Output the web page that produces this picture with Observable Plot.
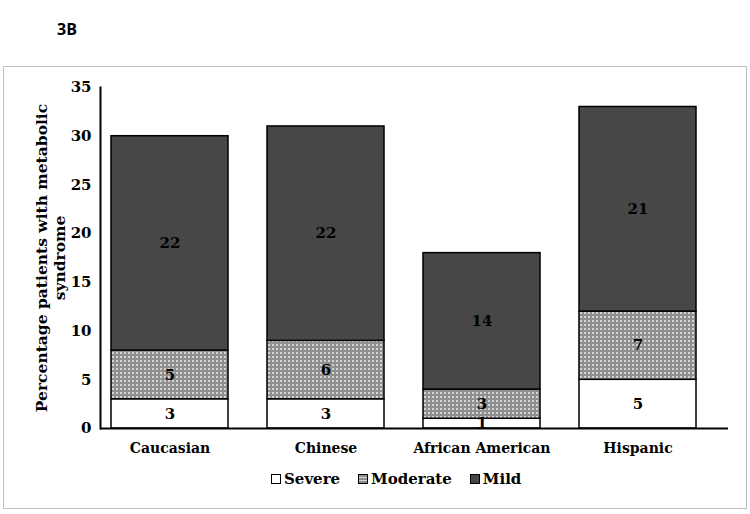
<!DOCTYPE html>
<html>
<head>
<meta charset="utf-8">
<script src="https://cdn.jsdelivr.net/npm/d3@7"></script>
<script src="https://cdn.jsdelivr.net/npm/@observablehq/plot@0.6"></script>
<style>
  html, body { margin: 0; padding: 0; background: #fff; }
  #wrap { position: relative; width: 750px; height: 514px; overflow: hidden; font-family: "DejaVu Serif", serif; }
  #tag { position: absolute; left: 57px; top: 18px; font: bold 16px "Open Sans", "DejaVu Sans", sans-serif; color: #000; }
  #box { position: absolute; left: 3px; top: 66px; width: 744px; height: 443px; border: 1px solid #bfbfbf; box-sizing: border-box; }
  #chart { position: absolute; left: 0; top: 0; }
  #legend { position: absolute; left: 271px; top: 470px; display: flex; align-items: center; font: bold 15px "DejaVu Serif", serif; color: #000; }
  #legend .item { display: flex; align-items: center; margin-right: 18px; }
  #legend .sw { width: 10px; height: 10px; border: 1px solid #000; margin-right: 3px; box-sizing: border-box; }
</style>
</head>
<body>
<div id="wrap">
  <div id="tag">3B</div>
  <div id="box"></div>
  <div id="chart"></div>
  <div id="legend"></div>
</div>
<script>
const groups = ["Caucasian", "Chinese", "African American", "Hispanic"];
const severe = [3, 3, 1, 5];
const moderate = [5, 6, 3, 7];
const mild = [22, 22, 14, 21];
const levels = ["Severe", "Moderate", "Mild"];
const yTicks = [0, 5, 10, 15, 20, 25, 30, 35];
const yLabel = "Percentage patients with metabolic\nsyndrome";

const fills = ["#ffffff", "url(#dots)", "#474747"];
const series = [severe, moderate, mild];
const rows = [];
groups.forEach((g, i) => {
  levels.forEach((lv, j) => rows.push({group: g, level: lv, value: series[j][i]}));
});

const chart = Plot.plot({
  width: 750,
  height: 465,
  marginTop: 87,
  marginBottom: 37,
  marginLeft: 100,
  marginRight: 22,
  style: {fontFamily: "DejaVu Serif, serif", fontSize: "14px", fontWeight: "bold", color: "#000", background: "transparent"},
  x: {domain: groups, range: [91.5, 715.5], paddingInner: 0.25, paddingOuter: 0.125, label: null},
  y: {domain: [0, 35], label: null},
  color: {domain: levels, range: fills},
  marks: [
    Plot.barY(rows, Plot.stackY({x: "group", y: "value", fill: "level", stroke: "#000", strokeWidth: 1.5})),
    Plot.text(rows, Plot.stackY({x: "group", y: "value", z: "level", text: "value", fill: "#000", fontSize: 15, fontWeight: "bold"})),
    Plot.axisY({ticks: yTicks, tickSize: 0, tickPadding: 9, fontSize: 15, fontWeight: "bold", label: null}),
    Plot.axisX({tickSize: 0, tickPadding: 15, fontSize: 14, fontWeight: "bold", label: null}),
    Plot.frame({anchor: "left", stroke: "#000", strokeWidth: 2}),
    Plot.ruleY([0], {stroke: "#000", strokeWidth: 2}),
    Plot.text([yLabel], {frameAnchor: "left", rotate: -90, dx: -50, fontSize: 15.5, fontWeight: "bold", lineHeight: 1.15, textAnchor: "middle", fill: "#000"})
  ]
});

// pattern for the "Moderate" fill
const ns = "http://www.w3.org/2000/svg";
const defs = document.createElementNS(ns, "defs");
defs.innerHTML = '<pattern id="dots" width="4" height="4" patternUnits="userSpaceOnUse"><rect width="4" height="4" fill="#8f8f8f"/><rect x="0" y="0" width="2" height="2" fill="#d4d4d4"/></pattern>';
chart.insertBefore(defs, chart.firstChild);
document.getElementById("chart").appendChild(chart);

// legend
const legend = document.getElementById("legend");
levels.forEach((lv, j) => {
  const it = document.createElement("div");
  it.className = "item";
  const sw = document.createElement("div");
  sw.className = "sw";
  if (j === 1) {
    sw.style.background = "repeating-linear-gradient(0deg, #8f8f8f 0 2px, #d4d4d4 2px 3px)";
  } else {
    sw.style.background = fills[j];
  }
  it.appendChild(sw);
  const t = document.createElement("span");
  t.textContent = lv;
  it.appendChild(t);
  legend.appendChild(it);
});
</script>
</body>
</html>
